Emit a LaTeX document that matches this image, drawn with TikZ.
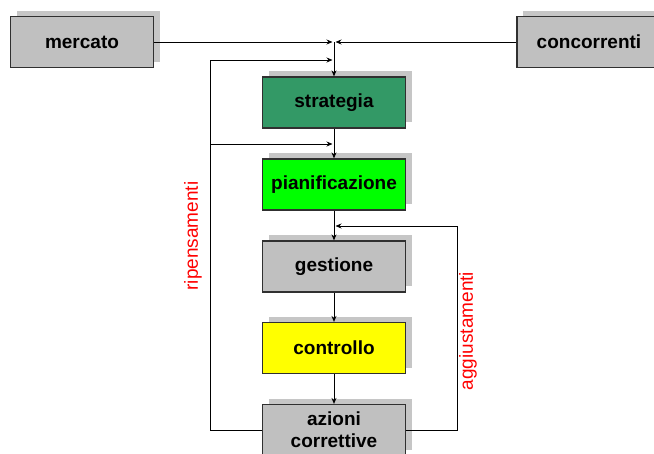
\documentclass[tikz,border=0pt]{standalone}
\usepackage{fontspec}
\setmainfont{Liberation Sans}
\usetikzlibrary{arrows.meta,shadows,calc}
\definecolor{grigio}{HTML}{C0C0C0}
\definecolor{ombra}{HTML}{C6C6C6}
\definecolor{verdescuro}{HTML}{339966}
\definecolor{verde}{HTML}{00FF00}
\definecolor{giallo}{HTML}{FFFF00}
\definecolor{bordo}{HTML}{303030}
\tikzset{
  blocco/.style={draw=bordo, line width=1.2pt, fill=grigio, inner sep=0pt,
    minimum width=143pt, minimum height=51pt, align=center,
    font=\bfseries\fontsize{19}{22}\selectfont,
    drop shadow={shadow xshift=6pt, shadow yshift=6pt, fill=ombra, opacity=1}},
  flusso/.style={line width=0.9pt, -{Stealth[length=6pt,width=5pt]}},
  etichetta/.style={text=red, rotate=90, font=\fontsize{19}{22}\selectfont}
}
\begin{document}
\begin{tikzpicture}[x=1pt, y=-1pt]
  \useasboundingbox (0,0) rectangle (654,453);
  \clip (0,0) rectangle (654,453);
  % ingressi
  \node[blocco] (mercato) at (82,42) {mercato};
  \node[blocco, minimum width=144pt] (concorrenti) at (589,42) {concorrenti};
  % colonna centrale
  \node[blocco, fill=verdescuro] (strategia) at (334,102.5) {strategia};
  \node[blocco, fill=verde] (pianificazione) at (334,184.5) {pianificazione};
  \node[blocco] (gestione) at (334,266.5) {gestione};
  \node[blocco, fill=giallo] (controllo) at (334,348) {controllo};
  \node[blocco] (azioni) at (334,430) {azioni\\correttive};
  \coordinate (unione) at (334,42);
  \coordinate (ripTop) at (210,60);
  \coordinate (ripMid) at (210,144);
  \coordinate (aggTop) at (457,226);
  \draw[flusso, shorten >=1.5pt] (mercato.east) -- (unione);
  \draw[flusso, shorten >=1.5pt] (concorrenti.west) -- (unione);
  \draw[flusso] (unione) -- (strategia.north);
  \draw[flusso] (strategia) -- (pianificazione);
  \draw[flusso] (pianificazione) -- (gestione);
  \draw[flusso] (gestione) -- (controllo);
  \draw[flusso] (controllo) -- (azioni);
  % ripensamenti
  \draw[flusso, shorten >=1.5pt] (azioni.west) -| (ripTop) -- (ripTop -| unione);
  \draw[flusso, shorten >=1.5pt] (ripMid) -- (ripMid -| unione);
  \node[etichetta] (ripLbl) at (193,236) {ripensamenti};
  % aggiustamenti
  \draw[flusso, shorten >=1.5pt] (azioni.east) -| (aggTop) -- (aggTop -| unione);
  \node[etichetta] (aggLbl) at (468,331) {aggiustamenti};
\end{tikzpicture}
\end{document}
